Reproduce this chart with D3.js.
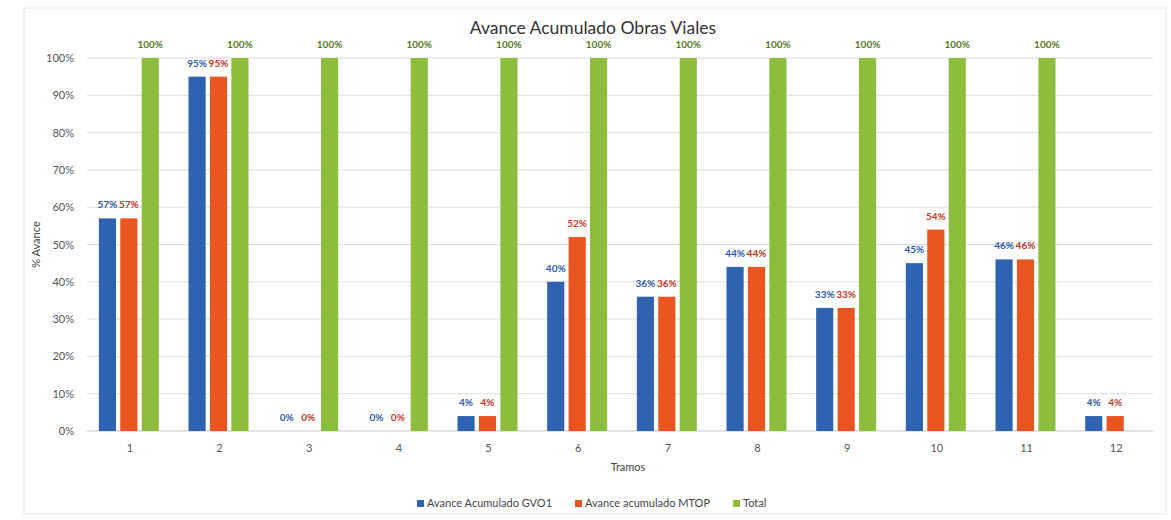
<!DOCTYPE html>
<html>
<head>
<meta charset="utf-8">
<script src="https://cdn.jsdelivr.net/npm/d3@7"></script>
<style>
  body { margin: 0; background: #fff; }
  text { font-family: Lato, "Open Sans", sans-serif; }
</style>
</head>
<body>
<svg id="canvas" width="1171" height="520"></svg>
<script>
/********** Data **********/
var tramos = ["1", "2", "3", "4", "5", "6", "7", "8", "9", "10", "11", "12"];
var gvo1   = [57, 95, 0, 0, 4, 40, 36, 44, 33, 45, 46, 4];
var mtop   = [57, 95, 0, 0, 4, 52, 36, 44, 33, 54, 46, 4];
var total  = [100, 100, 100, 100, 100, 100, 100, 100, 100, 100, 100, null];
var yTicks = [0, 10, 20, 30, 40, 50, 60, 70, 80, 90, 100];

var series = [
  {name: "Avance Acumulado GVO1", values: gvo1, color: "#2f62b0", label: "#2a5ba8"},
  {name: "Avance acumulado MTOP", values: mtop, color: "#ea5420", label: "#c0361c"},
  {name: "Total", values: total, color: "#8cbd3c", label: "#55781c"}
];

/********** Setup **********/
var svg = d3.select("#canvas");
var margin = {left: 85, right: 10, top: 58, bottom: 89};
var width = +svg.attr("width");
var height = +svg.attr("height");

svg.append("rect")
  .attr("x", 24).attr("y", 8)
  .attr("width", 1142).attr("height", 506)
  .attr("fill", "none")
  .attr("stroke", "#e4e4e4");

var x = d3.scaleBand()
  .domain(tramos)
  .range([margin.left, width - margin.right]);

var inner = d3.scaleBand()
  .domain(series.map(function(s) { return s.name; }))
  .range([-31, 29])
  .paddingInner(0.2);

var y = d3.scaleLinear()
  .domain([0, 100])
  .range([height - margin.bottom, margin.top]);

/********** Grid **********/
svg.append("g")
  .selectAll("line")
  .data(yTicks)
  .enter()
  .append("line")
  .attr("x1", margin.left + 2)
  .attr("x2", width - margin.right - 8)
  .attr("y1", function(d) { return y(d); })
  .attr("y2", function(d) { return y(d); })
  .attr("stroke", function(d) { return d == 0 ? "#c8c8d0" : "#dcdce4"; })
  .attr("stroke-width", 1);

/********** Axes **********/
var yAxis = svg.append("g")
  .attr("transform", "translate(" + (margin.left - 8) + ",0)")
  .call(d3.axisLeft(y).tickValues(yTicks).tickSize(0).tickFormat(function(d) { return d + "%"; }));
yAxis.select(".domain").remove();
yAxis.selectAll("text").attr("font-size", 11).attr("fill", "#555");

var xAxis = svg.append("g")
  .attr("transform", "translate(0," + (height - margin.bottom + 10) + ")")
  .call(d3.axisBottom(x).tickSize(0));
xAxis.select(".domain").remove();
xAxis.selectAll("text").attr("font-size", 11).attr("fill", "#555");

/********** Bars **********/
series.forEach(function(s) {
  var g = svg.append("g");
  var pts = tramos.map(function(t, i) { return {t: t, v: s.values[i]}; })
    .filter(function(d) { return d.v !== null; });

  g.selectAll("rect")
    .data(pts)
    .enter()
    .append("rect")
    .attr("x", function(d) { return x(d.t) + x.bandwidth() / 2 + inner(s.name); })
    .attr("width", inner.bandwidth())
    .attr("y", function(d) { return y(d.v); })
    .attr("height", function(d) { return y(0) - y(d.v); })
    .attr("fill", s.color);

  g.selectAll("text")
    .data(pts)
    .enter()
    .append("text")
    .attr("x", function(d) { return x(d.t) + x.bandwidth() / 2 + inner(s.name) + inner.bandwidth() / 2; })
    .attr("y", function(d) { return y(d.v) - 10; })
    .attr("text-anchor", "middle")
    .attr("font-size", 10)
    .attr("font-weight", "bold")
    .attr("fill", s.label)
    .text(function(d) { return d.v + "%"; });
});

/********** Titles **********/
svg.append("text")
  .attr("x", 593).attr("y", 34)
  .attr("text-anchor", "middle")
  .attr("font-size", 17.5)
  .attr("fill", "#333")
  .text("Avance Acumulado Obras Viales");

svg.append("text")
  .attr("transform", "translate(40," + y(50) + ") rotate(-90)")
  .attr("text-anchor", "middle")
  .attr("font-size", 11)
  .attr("fill", "#444")
  .text("% Avance");

svg.append("text")
  .attr("x", 628).attr("y", 471)
  .attr("text-anchor", "middle")
  .attr("font-size", 11)
  .attr("fill", "#444")
  .text("Tramos");

/********** Legend **********/
var legendX = [417, 575, 733];
var legend = svg.append("g")
  .selectAll("g")
  .data(series)
  .enter()
  .append("g")
  .attr("transform", function(d, i) { return "translate(" + legendX[i] + ",507)"; });

legend.append("rect")
  .attr("x", 0).attr("y", -7)
  .attr("width", 7).attr("height", 7)
  .attr("fill", function(d) { return d.color; });

legend.append("text")
  .attr("x", 10).attr("y", 0)
  .attr("font-size", 11)
  .attr("fill", "#444")
  .text(function(d) { return d.name; });
</script>
</body>
</html>
